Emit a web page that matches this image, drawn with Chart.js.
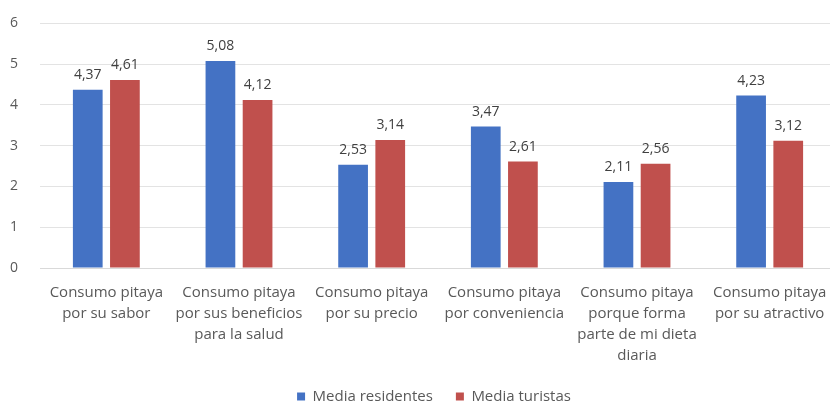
<!DOCTYPE html>
<html>
<head>
<meta charset="utf-8">
<script src="https://cdn.jsdelivr.net/npm/chart.js@4/dist/chart.umd.min.js"></script>
<style>
  html, body { margin: 0; padding: 0; background: #fff; overflow: hidden; }
  #wrap { width: 864px; height: 406px; }
</style>
</head>
<body>
<div id="wrap"><canvas id="barChart"></canvas></div>
<script>
"use strict"

const categories = [
  ["Consumo pitaya", "por su sabor"],
  ["Consumo pitaya", "por sus beneficios", "para la salud"],
  ["Consumo pitaya", "por su precio"],
  ["Consumo pitaya", "por conveniencia"],
  ["Consumo pitaya", "porque forma", "parte de mi dieta", "diaria"],
  ["Consumo pitaya", "por su atractivo"]
];
const mediaResidentes = [4.37, 5.08, 2.53, 3.47, 2.11, 4.23];
const mediaTuristas = [4.61, 4.12, 3.14, 2.61, 2.56, 3.12];
const yTicks = [0, 1, 2, 3, 4, 5, 6];

const textColor = '#595959';
const fontFamily = '"Open Sans", sans-serif';

// draw the value above every bar, with a decimal comma
const valueLabels = {
  id: 'valueLabels',
  afterLayout(chart) {
    // legend block carries a trailing gap, push it back to the middle
    chart.legend.left += 11;
    chart.legend.right += 11;
  },
  afterDatasetsDraw(chart) {
    const ctx = chart.ctx;
    ctx.save();
    ctx.font = '14px ' + fontFamily;
    ctx.fillStyle = '#404040';
    ctx.textAlign = 'center';
    ctx.textBaseline = 'bottom';
    chart.data.datasets.forEach((ds, i) => {
      chart.getDatasetMeta(i).data.forEach((bar, j) => {
        ctx.fillText(ds.data[j].toFixed(2).replace('.', ','), bar.x, bar.y - 8);
      });
    });
    ctx.restore();
  }
};

var ctx = document.getElementById('barChart').getContext('2d');
var myBarChart = new Chart(ctx, {
  type: 'bar',
  data: {
    labels: categories,
    datasets: [{
      label: 'Media residentes',
      data: mediaResidentes,
      backgroundColor: '#4472C4'
    },
    {
      label: 'Media turistas',
      data: mediaTuristas,
      backgroundColor: '#C0504D'
    }]
  },
  options: {
    responsive: true,
    maintainAspectRatio: false,
    animation: false,
    categoryPercentage: 0.56,
    barPercentage: 0.8,
    layout: {
      padding: { top: 4, left: 10, right: 28, bottom: -8 }
    },
    plugins: {
      legend: {
        position: 'bottom',
        labels: {
          boxWidth: 8,
          boxHeight: 8,
          padding: 23,
          color: textColor,
          font: { family: fontFamily, size: 15 }
        }
      },
      tooltip: { enabled: false }
    },
    scales: {
      x: {
        afterFit: axis => { axis.height -= 14; },
        grid: { display: false, drawTicks: false },
        border: { color: '#d9d9d9' },
        ticks: {
          color: textColor,
          padding: 14,
          maxRotation: 0,
          autoSkip: false,
          font: { family: fontFamily, size: 15, lineHeight: 1.4 }
        }
      },
      y: {
        min: yTicks[0],
        max: yTicks[yTicks.length - 1],
        afterBuildTicks: axis => { axis.ticks = yTicks.map(v => ({ value: v })); },
        afterFit: axis => { axis.width = 30; },
        grid: { color: '#e3e3e3', drawTicks: false },
        border: { display: false },
        ticks: {
          color: textColor,
          padding: 15,
          crossAlign: 'far',
          font: { family: fontFamily, size: 14 }
        }
      }
    }
  },
  plugins: [valueLabels]
});
</script>
</body>
</html>
